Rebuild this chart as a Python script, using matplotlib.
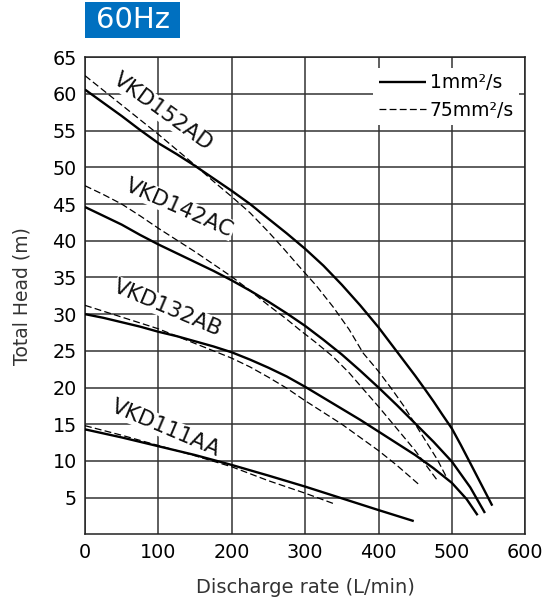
import matplotlib
matplotlib.use("Agg")
import matplotlib.pyplot as plt
from matplotlib.patches import Rectangle

# ---- data ----
x_152_solid = [0, 25, 50, 75, 100, 125, 150, 175, 200, 225, 250, 275, 300, 325, 350,
               375, 400, 425, 450, 463, 475, 487, 500, 512, 525, 540, 555]
y_152_solid = [60.6, 58.8, 57.0, 55.1, 53.3, 51.8, 50.2, 48.5, 46.8, 45.0, 43.0, 41.0,
               38.9, 36.6, 34.0, 31.2, 28.2, 24.9, 21.6, 19.8, 18.1, 16.3, 14.4, 12.2,
               9.7, 6.8, 3.9]
x_152_dash = [0, 25, 50, 75, 100, 125, 150, 175, 200, 225, 250, 270, 290, 315, 338,
              360, 379, 400, 418, 435, 450, 465, 480, 492]
y_152_dash = [62.5, 60.5, 58.5, 56.5, 54.5, 52.4, 50.3, 48.1, 46.0, 43.8, 41.2, 39.0,
              36.7, 33.9, 31.0, 27.9, 24.7, 22.2, 19.8, 17.4, 15.0, 12.6, 10.2, 7.9]

x_142_solid = [0, 25, 50, 75, 100, 125, 150, 175, 200, 225, 250, 275, 300, 325, 350,
               375, 400, 425, 450, 475, 500, 525, 545]
y_142_solid = [44.6, 43.4, 42.2, 40.8, 39.5, 38.3, 37.1, 35.9, 34.6, 33.2, 31.7, 30.1,
               28.4, 26.5, 24.5, 22.3, 20.0, 17.6, 15.1, 12.6, 9.9, 6.4, 2.9]
x_142_dash = [0, 25, 50, 75, 100, 125, 150, 175, 200, 225, 250, 275, 292, 315, 338,
              360, 379, 400, 420, 450, 479]
y_142_dash = [47.5, 46.3, 45.0, 43.4, 41.7, 40.1, 38.5, 36.8, 35.1, 33.2, 31.2, 29.3,
              27.9, 26.1, 24.2, 22.0, 19.8, 17.4, 15.0, 11.4, 7.5]

x_132_solid = [0, 25, 50, 75, 100, 125, 150, 175, 200, 225, 250, 275, 300, 325, 350,
               375, 400, 425, 450, 475, 500, 520, 535]
y_132_solid = [30.0, 29.5, 28.9, 28.3, 27.6, 27.0, 26.3, 25.6, 24.8, 23.8, 22.7, 21.5,
               20.1, 18.6, 17.1, 15.6, 14.0, 12.4, 10.8, 9.0, 7.0, 4.8, 2.6]
x_132_dash = [0, 25, 50, 75, 100, 125, 150, 175, 200, 225, 250, 275, 300, 325, 350,
              375, 400, 425, 456]
y_132_dash = [31.2, 30.4, 29.6, 28.8, 28.0, 27.0, 26.0, 25.0, 24.0, 22.8, 21.4, 19.9,
              18.2, 16.6, 15.0, 13.2, 11.4, 9.4, 6.7]

x_111_solid = [0, 50, 100, 150, 200, 250, 300, 350, 400, 448]
y_111_solid = [14.3, 13.2, 12.0, 10.8, 9.45, 8.0, 6.5, 4.9, 3.3, 1.8]
x_111_dash = [0, 50, 100, 150, 200, 250, 300, 341]
y_111_dash = [14.8, 13.5, 12.1, 10.7, 9.2, 7.3, 5.6, 4.1]

models = ["VKD152AD", "VKD142AC", "VKD132AB", "VKD111AA"]
label_x = [106, 129, 113, 110]
label_y = [57.6, 44.5, 30.8, 14.5]
label_rot = [-36, -24, -23, -23]

x_ticks = [0, 100, 200, 300, 400, 500, 600]
y_ticks = [5, 10, 15, 20, 25, 30, 35, 40, 45, 50, 55, 60, 65]
legend_labels = ["1mm\u00b2/s", "75mm\u00b2/s"]
title_text = "60Hz"
xlabel = "Discharge rate (L/min)"
ylabel = "Total Head (m)"

# ---- figure ----
plt.rcParams['font.family'] = ['DejaVu Sans']
fig = plt.figure(figsize=(5.52, 6.06), dpi=100)
ax = fig.add_axes([85/552, 1-534.3/606, (525.3-85)/552, (534.3-57.3)/606])

solid_kw = dict(color='black', lw=1.7, solid_capstyle='butt', solid_joinstyle='round', zorder=4)
dash_kw = dict(color='black', lw=0.9, dashes=(5.5, 2.6), zorder=4)

solids = [(x_152_solid, y_152_solid), (x_142_solid, y_142_solid),
          (x_132_solid, y_132_solid), (x_111_solid, y_111_solid)]
dashes = [(x_152_dash, y_152_dash), (x_142_dash, y_142_dash),
          (x_132_dash, y_132_dash), (x_111_dash, y_111_dash)]

for i, (xs, ys) in enumerate(solids):
    ax.plot(xs, ys, label=legend_labels[0] if i == 0 else None, **solid_kw)
for i, (xs, ys) in enumerate(dashes):
    ax.plot(xs, ys, label=legend_labels[1] if i == 0 else None, **dash_kw)

for name, lx, ly, rot in zip(models, label_x, label_y, label_rot):
    ax.text(lx, ly, name, rotation=rot, rotation_mode='anchor',
            ha='center', va='center', fontsize=15.5, color='#111', zorder=3,
            bbox=dict(facecolor='white', edgecolor='none', pad=0.5))

ax.set_xlim(0, 600)
ax.set_ylim(0, 65)
ax.set_xticks(x_ticks)
ax.set_yticks(y_ticks)
ax.tick_params(length=0, labelsize=13.8, pad=6, colors='black')
ax.grid(True, color='#333333', lw=1.1, zorder=1)
ax.set_axisbelow(True)
for s in ax.spines.values():
    s.set_color('#222222')
    s.set_linewidth(1.1)

ax.set_xlabel(xlabel, fontsize=14, color='#333333', labelpad=12)
ax.set_ylabel(ylabel, fontsize=13.5, color='#333333', labelpad=15)

leg = ax.legend(loc='upper right', bbox_to_anchor=(1.01, 1.0), fontsize=13.5,
                frameon=True, framealpha=1, edgecolor='none', facecolor='white',
                handlelength=2.5, handletextpad=0.2, borderpad=0.3,
                labelspacing=0.45, borderaxespad=0.55, fancybox=False)
leg.get_frame().set_linewidth(0)
leg.set_zorder(5)

# title box
fig.patches.append(Rectangle((85/552, 1-38/606), (180-85)/552, 36/606,
                             transform=fig.transFigure, facecolor='#0070C0',
                             edgecolor='none'))
fig.text(132.5/552, 1-20/606, title_text, color='white', fontsize=21,
         ha='center', va='center')

fig.savefig('out.png', dpi=100)
